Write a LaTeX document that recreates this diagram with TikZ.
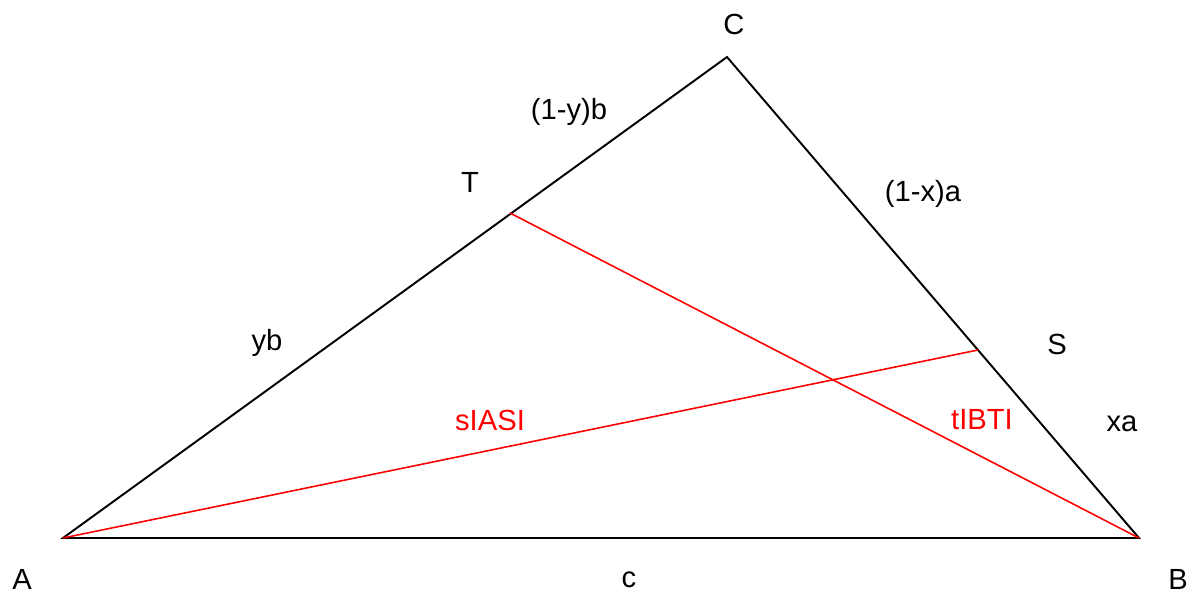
\documentclass[tikz,border=0pt]{standalone}
\usepackage{fontspec}
\setmainfont{Liberation Sans}
\usetikzlibrary{positioning}

\begin{document}
\begin{tikzpicture}[
  x=0.02cm, y=-0.02cm,
  side/.style={draw=black, line width=1.1pt},
  cevian/.style={draw=red, line width=0.9pt},
  lab/.style={font=\fontsize{16.6}{19}\selectfont, text=black},
  redlab/.style={font=\fontsize{16.6}{19}\selectfont, text=red}
]
  \useasboundingbox (0,0) rectangle (1191,594);

  % Vertices and points on the sides
  \coordinate (A) at (63,538);
  \coordinate (B) at (1139,538);
  \coordinate (C) at (727,57);
  \coordinate (T) at (510,213);
  \coordinate (S) at (978,350);

  % Triangle
  \draw[side] (A) -- (B) -- (C) -- cycle;

  % Cevians
  \draw[cevian] (A) -- (S);
  \draw[cevian] (B) -- (T);

  % Point labels
  \node[lab] (labA) at (22,579) {A};
  \node[lab] (labB) at (1178,579) {B};
  \node[lab] (labC) at (734,24) {C};
  \node[lab] (labT) at (470,182) {T};
  \node[lab] (labS) at (1057,344) {S};

  % Side labels
  \node[lab] (labc) at (629,580) {c};
  \node[lab] (labyb) at (267,343) {yb};
  \node[lab] (labyb1) at (569,112) {(1-y)b};
  \node[lab] (labxa1) at (923,194) {(1-x)a};
  \node[lab] (labxa) at (1122,424) {xa};

  % Cevian labels
  \node[redlab] (labAS) at (490,420) {sIASI};
  \node[redlab] (labBT) at (982,420) {tIBTI};
\end{tikzpicture}
\end{document}
